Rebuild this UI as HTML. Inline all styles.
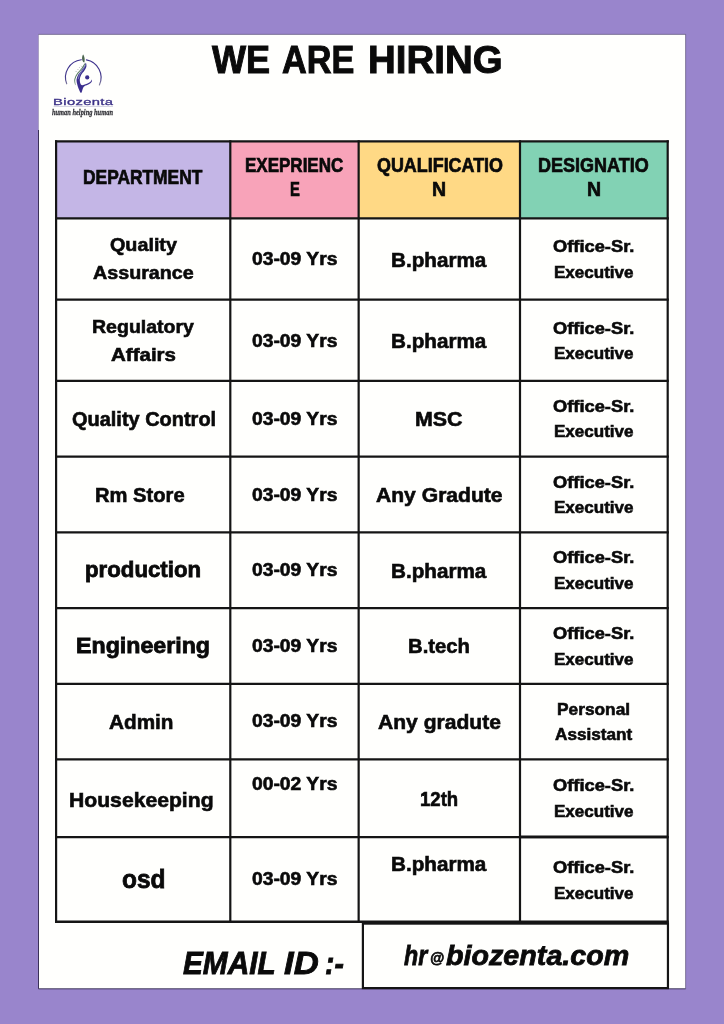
<!DOCTYPE html>
<html lang="en">
<head>
<meta charset="utf-8">
<title>We Are Hiring - Biozenta</title>
<style>
html,body{margin:0;padding:0}
body{width:724px;height:1024px;background:#9985cc;position:relative;overflow:hidden;font-family:"Liberation Sans",sans-serif;color:#0a0a0a}
.t{position:absolute;white-space:nowrap;line-height:1;font-weight:bold;transform-origin:0 0;margin:0;-webkit-text-stroke:0.45px #0a0a0a}
.i{font-style:italic}
.g{margin:0;padding:0;font-size:0;line-height:0}
.f{position:absolute}
</style>
</head>
<body>
<svg class="f" style="left:0;top:0" width="724" height="1024" viewBox="0 0 724 1024">
<rect x="38.5" y="34.4" width="647.1" height="954.5" fill="#fffffd"/>
<path d="M38.5 130V988.8H685.6" fill="none" stroke="#2a2048" stroke-width="0.9"/>
<path d="M38.5 130V34.4" fill="none" stroke="#2a2048" stroke-opacity="0.25" stroke-width="0.8"/>
<path d="M38.5 34.4H685.6V988.8" fill="none" stroke="#2a2048" stroke-opacity="0.6" stroke-width="0.8"/>
<rect x="56.1" y="141.3" width="174.2" height="77.1" fill="#c4b6e6"/>
<rect x="230.3" y="141.3" width="128.3" height="77.1" fill="#f8a3b9"/>
<rect x="358.65" y="141.3" width="161.4" height="77.1" fill="#ffd985"/>
<rect x="520.0" y="141.3" width="147.7" height="77.1" fill="#82d2b4"/>
<g stroke="#151515" stroke-width="2.2" fill="none" stroke-linecap="square">
<path d="M56.1 141.3V921.75"/>
<path d="M230.3 141.3V921.75"/>
<path d="M358.65 141.3V921.75"/>
<path d="M520.0 141.3V921.75"/>
<path d="M667.7 141.3V921.75"/>
<path d="M56.1 141.3H667.7"/>
<path d="M56.1 218.4H667.7"/>
<path d="M56.1 299.7H667.7"/>
<path d="M56.1 380.9H667.7"/>
<path d="M56.1 456.7H667.7"/>
<path d="M56.1 532.3H667.7"/>
<path d="M56.1 608.1H667.7"/>
<path d="M56.1 683.9H667.7"/>
<path d="M56.1 759.45H667.7"/>
<path d="M56.1 837.1H667.7"/>
</g>
<path d="M520.0 836.9H667.7" stroke="#151515" stroke-width="2.9"/>
<path d="M55.0 921.75H668.8" stroke="#151515" stroke-width="2.4"/>
<rect x="362.9" y="923.6" width="305.05" height="64.5" fill="#fffffd" stroke="#151515" stroke-width="2.2"/>
</svg>
<h1 class="g"><span class="t" style="left:211.66px;top:40.00px;font-size:39.2px;-webkit-text-stroke-width:1.0px;transform:scaleX(0.9208)">WE</span> <span class="t" style="left:282.44px;top:40.00px;font-size:39.2px;-webkit-text-stroke-width:1.0px;transform:scaleX(0.8741)">ARE</span> <span class="t" style="left:367.83px;top:40.00px;font-size:39.2px;-webkit-text-stroke-width:1.0px;transform:scaleX(0.9809)">HIRING</span></h1>
<div class="g">
<span class="t" style="left:83.13px;top:168.00px;font-size:19.8px;-webkit-text-stroke-width:0.7px;transform:scaleX(0.8781)">DEPARTMENT</span>
<span class="t" style="left:244.94px;top:156.00px;font-size:19.8px;-webkit-text-stroke-width:0.7px;transform:scaleX(0.8594)">EXEPRIENC</span>
<span class="t" style="left:289.51px;top:180.00px;font-size:19.8px;-webkit-text-stroke-width:0.7px;transform:scaleX(0.7480)">E</span>
<span class="t" style="left:376.57px;top:156.00px;font-size:19.8px;-webkit-text-stroke-width:0.7px;transform:scaleX(0.9050)">QUALIFICATIO</span>
<span class="t" style="left:432.36px;top:180.00px;font-size:19.8px;-webkit-text-stroke-width:0.7px;transform:scaleX(0.9843)">N</span>
<span class="t" style="left:538.16px;top:156.00px;font-size:19.8px;-webkit-text-stroke-width:0.7px;transform:scaleX(0.9096)">DESIGNATIO</span>
<span class="t" style="left:586.86px;top:180.00px;font-size:19.8px;-webkit-text-stroke-width:0.7px;transform:scaleX(0.9843)">N</span>
<span class="t" style="left:109.81px;top:235.00px;font-size:19px;-webkit-text-stroke-width:0.6px;transform:scaleX(1.0392)">Quality</span>
<span class="t" style="left:93.31px;top:263.00px;font-size:19px;-webkit-text-stroke-width:0.6px;transform:scaleX(1.0366)">Assurance</span>
<span class="t" style="left:91.78px;top:317.00px;font-size:19px;-webkit-text-stroke-width:0.6px;transform:scaleX(1.0275)">Regulatory</span>
<span class="t" style="left:111.07px;top:345.00px;font-size:19px;-webkit-text-stroke-width:0.6px;transform:scaleX(1.0795)">Affairs</span>
<span class="t" style="left:71.55px;top:410.00px;font-size:19.7px;-webkit-text-stroke-width:0.6px;transform:scaleX(1.0136)">Quality Control</span>
<span class="t" style="left:95.03px;top:486.00px;font-size:19.7px;-webkit-text-stroke-width:0.6px;transform:scaleX(1.0239)">Rm Store</span>
<span class="t" style="left:85.16px;top:558.00px;font-size:22.7px;-webkit-text-stroke-width:0.8px;transform:scaleX(0.9796)">production</span>
<span class="t" style="left:76.37px;top:635.00px;font-size:22px;-webkit-text-stroke-width:0.8px;transform:scaleX(1.0539)">Engineering</span>
<span class="t" style="left:108.56px;top:712.00px;font-size:20.2px;-webkit-text-stroke-width:0.6px;transform:scaleX(1.0267)">Admin</span>
<span class="t" style="left:68.52px;top:790.00px;font-size:20.2px;-webkit-text-stroke-width:0.6px;transform:scaleX(1.0477)">Housekeeping</span>
<span class="t" style="left:121.92px;top:867.00px;font-size:25.5px;-webkit-text-stroke-width:0.8px;transform:scaleX(0.9585)">osd</span>
<span class="t" style="left:390.53px;top:250.00px;font-size:20.2px;-webkit-text-stroke-width:0.6px;transform:scaleX(1.0242)">B.pharma</span>
<span class="t" style="left:390.53px;top:331.00px;font-size:20.2px;-webkit-text-stroke-width:0.6px;transform:scaleX(1.0242)">B.pharma</span>
<span class="t" style="left:415.00px;top:410.00px;font-size:19.9px;-webkit-text-stroke-width:0.6px;transform:scaleX(1.0763)">MSC</span>
<span class="t" style="left:375.81px;top:485.00px;font-size:20.2px;-webkit-text-stroke-width:0.6px;transform:scaleX(1.0451)">Any Gradute</span>
<span class="t" style="left:390.53px;top:561.00px;font-size:20.2px;-webkit-text-stroke-width:0.6px;transform:scaleX(1.0242)">B.pharma</span>
<span class="t" style="left:408.05px;top:636.00px;font-size:20.2px;-webkit-text-stroke-width:0.6px;transform:scaleX(1.0047)">B.tech</span>
<span class="t" style="left:377.81px;top:712.00px;font-size:20.2px;-webkit-text-stroke-width:0.6px;transform:scaleX(1.0432)">Any gradute</span>
<span class="t" style="left:420.10px;top:790.00px;font-size:19.9px;-webkit-text-stroke-width:0.6px;transform:scaleX(0.9340)">12th</span>
<span class="t" style="left:390.53px;top:854.00px;font-size:20.2px;-webkit-text-stroke-width:0.6px;transform:scaleX(1.0242)">B.pharma</span>
<span class="t" style="left:251.57px;top:250.00px;font-size:18.2px;-webkit-text-stroke-width:0.6px;transform:scaleX(1.0599)">03-09 Yrs</span>
<span class="t" style="left:251.57px;top:332.00px;font-size:18.2px;-webkit-text-stroke-width:0.6px;transform:scaleX(1.0599)">03-09 Yrs</span>
<span class="t" style="left:251.57px;top:410.00px;font-size:18.2px;-webkit-text-stroke-width:0.6px;transform:scaleX(1.0599)">03-09 Yrs</span>
<span class="t" style="left:251.57px;top:486.00px;font-size:18.2px;-webkit-text-stroke-width:0.6px;transform:scaleX(1.0599)">03-09 Yrs</span>
<span class="t" style="left:251.57px;top:561.00px;font-size:18.2px;-webkit-text-stroke-width:0.6px;transform:scaleX(1.0599)">03-09 Yrs</span>
<span class="t" style="left:251.57px;top:637.00px;font-size:18.2px;-webkit-text-stroke-width:0.6px;transform:scaleX(1.0599)">03-09 Yrs</span>
<span class="t" style="left:251.57px;top:712.00px;font-size:18.2px;-webkit-text-stroke-width:0.6px;transform:scaleX(1.0599)">03-09 Yrs</span>
<span class="t" style="left:251.57px;top:775.00px;font-size:18.2px;-webkit-text-stroke-width:0.6px;transform:scaleX(1.0599)">00-02 Yrs</span>
<span class="t" style="left:251.57px;top:870.00px;font-size:18.2px;-webkit-text-stroke-width:0.6px;transform:scaleX(1.0599)">03-09 Yrs</span>
<span class="t" style="left:553.33px;top:239.00px;font-size:16.9px;-webkit-text-stroke-width:0.6px;transform:scaleX(1.0833)">Office-Sr.</span>
<span class="t" style="left:553.79px;top:265.00px;font-size:16.9px;-webkit-text-stroke-width:0.6px;transform:scaleX(1.0086)">Executive</span>
<span class="t" style="left:553.33px;top:321.00px;font-size:16.9px;-webkit-text-stroke-width:0.6px;transform:scaleX(1.0833)">Office-Sr.</span>
<span class="t" style="left:553.79px;top:346.00px;font-size:16.9px;-webkit-text-stroke-width:0.6px;transform:scaleX(1.0086)">Executive</span>
<span class="t" style="left:553.33px;top:399.00px;font-size:16.9px;-webkit-text-stroke-width:0.6px;transform:scaleX(1.0833)">Office-Sr.</span>
<span class="t" style="left:553.79px;top:424.00px;font-size:16.9px;-webkit-text-stroke-width:0.6px;transform:scaleX(1.0086)">Executive</span>
<span class="t" style="left:553.33px;top:475.00px;font-size:16.9px;-webkit-text-stroke-width:0.6px;transform:scaleX(1.0833)">Office-Sr.</span>
<span class="t" style="left:553.79px;top:500.00px;font-size:16.9px;-webkit-text-stroke-width:0.6px;transform:scaleX(1.0086)">Executive</span>
<span class="t" style="left:553.33px;top:550.00px;font-size:16.9px;-webkit-text-stroke-width:0.6px;transform:scaleX(1.0833)">Office-Sr.</span>
<span class="t" style="left:553.79px;top:576.00px;font-size:16.9px;-webkit-text-stroke-width:0.6px;transform:scaleX(1.0086)">Executive</span>
<span class="t" style="left:553.33px;top:626.00px;font-size:16.9px;-webkit-text-stroke-width:0.6px;transform:scaleX(1.0833)">Office-Sr.</span>
<span class="t" style="left:553.79px;top:652.00px;font-size:16.9px;-webkit-text-stroke-width:0.6px;transform:scaleX(1.0086)">Executive</span>
<span class="t" style="left:553.33px;top:778.00px;font-size:16.9px;-webkit-text-stroke-width:0.6px;transform:scaleX(1.0833)">Office-Sr.</span>
<span class="t" style="left:553.79px;top:804.00px;font-size:16.9px;-webkit-text-stroke-width:0.6px;transform:scaleX(1.0086)">Executive</span>
<span class="t" style="left:553.33px;top:860.00px;font-size:16.9px;-webkit-text-stroke-width:0.6px;transform:scaleX(1.0833)">Office-Sr.</span>
<span class="t" style="left:553.79px;top:886.00px;font-size:16.9px;-webkit-text-stroke-width:0.6px;transform:scaleX(1.0086)">Executive</span>
<span class="t" style="left:556.78px;top:702.00px;font-size:16.9px;-webkit-text-stroke-width:0.6px;transform:scaleX(1.0248)">Personal</span>
<span class="t" style="left:555.30px;top:727.00px;font-size:16.9px;-webkit-text-stroke-width:0.6px;transform:scaleX(1.0161)">Assistant</span>
</div>
<div class="g"><span class="t i" style="left:182.99px;top:948.00px;font-size:30.55px;-webkit-text-stroke-width:0.8px;transform:scaleX(0.9749)">EMAIL</span> <span class="t i" style="left:284.25px;top:948.00px;font-size:30.55px;-webkit-text-stroke-width:0.8px;transform:scaleX(1.1347)">ID</span> <span class="t i" style="left:325.44px;top:948.00px;font-size:30.55px;-webkit-text-stroke-width:0.8px;transform:scaleX(0.9263)">:-</span></div>
<div class="g"><span class="t i" style="left:404.43px;top:942.00px;font-size:28px;-webkit-text-stroke-width:0.8px;transform:scaleX(0.8284)">hr</span><span class="t i" style="left:430.06px;top:951.00px;font-size:14.6px;-webkit-text-stroke-width:0.7px;transform:scaleX(0.9854)">@</span><span class="t i" style="left:446.01px;top:942.00px;font-size:28px;-webkit-text-stroke-width:0.8px;transform:scaleX(1.0245)">biozenta.com</span></div>
<svg class="f" style="left:45px;top:45px" width="80" height="80" viewBox="45 45 80 80">
<defs><linearGradient id="ag" x1="0" y1="59" x2="0" y2="86" gradientUnits="userSpaceOnUse"><stop offset="0" stop-color="#3b2f8e"/><stop offset="0.7" stop-color="#463c8c"/><stop offset="1" stop-color="#8c8aa0"/></linearGradient></defs>
<g fill="none" stroke="url(#ag)" stroke-linecap="round" stroke-width="1.15">
<path d="M66.7 83.8A17.8 17.8 0 0 1 81.2 59.7"/>
<path d="M86.4 59.9A17.8 17.8 0 0 1 99.4 84.9"/>
</g>
<path d="M83.16 54.55C83.58 54.60 84.43 57.07 84.61 58.38C84.80 59.70 84.57 62.00 84.25 62.46C83.93 62.91 83.03 61.85 82.67 61.12C82.30 60.39 81.98 59.17 82.06 58.08C82.14 56.98 82.73 54.50 83.16 54.55Z" fill="#4c6650"/>
<path d="M85.83 62.82C86.11 62.95 86.64 65.05 86.44 66.29C86.24 67.52 85.50 68.79 84.61 70.24C83.73 71.69 81.95 73.46 81.15 74.98C80.35 76.50 79.93 77.92 79.81 79.36C79.69 80.79 80.02 82.65 80.42 83.61C80.81 84.57 81.00 85.15 82.18 85.13C83.37 85.11 86.11 84.11 87.53 83.49C88.95 82.87 89.96 82.09 90.69 81.42C91.42 80.75 91.76 79.40 91.91 79.48C92.06 79.56 92.13 81.11 91.60 81.91C91.08 82.71 89.89 83.59 88.75 84.28C87.60 84.97 85.68 85.42 84.74 86.04C83.79 86.66 83.71 86.82 83.09 87.99C82.48 89.15 81.79 92.95 81.03 93.03C80.27 93.11 79.20 90.04 78.53 88.47C77.87 86.90 77.34 85.13 77.02 83.61C76.69 82.09 76.38 80.86 76.59 79.36C76.80 77.86 77.40 76.21 78.29 74.61C79.18 73.01 80.87 71.27 81.94 69.75C83.01 68.23 84.09 66.65 84.74 65.50C85.38 64.34 85.55 62.69 85.83 62.82Z" fill="#3b2f8e"/>
<path d="M84.61 63.55C83.99 64.28 82.65 66.81 81.33 68.53C80.01 70.26 77.88 72.08 76.71 73.88C75.55 75.69 74.62 77.58 74.34 79.36C74.06 81.13 74.82 83.66 75.01 84.52C75.20 85.38 75.45 85.36 75.50 84.52C75.54 83.68 74.89 81.19 75.25 79.48C75.62 77.76 76.53 75.99 77.68 74.25C78.84 72.51 80.95 70.70 82.18 69.02C83.42 67.34 84.70 65.07 85.10 64.16C85.51 63.25 85.24 62.82 84.61 63.55Z" fill="#557a63"/>
<path d="M85.34 65.07C84.95 65.83 83.90 68.11 82.97 69.63C82.04 71.15 80.53 72.67 79.75 74.19C78.97 75.71 78.53 77.99 78.29 78.75" fill="none" stroke="#b9c4ea" stroke-width="0.55" stroke-linecap="round"/>
<circle cx="87.23" cy="77.41" r="2.1" fill="#3b2f8e"/>
<path d="M76.47 71.94L75.86 71.21M78.17 69.75L77.56 69.02M79.99 68.17L79.39 67.44M81.82 66.59L81.21 65.86" stroke="#5a6274" stroke-width="0.6" fill="none"/>
<path d="M53.6 106.4H113" stroke="#b4b2cc" stroke-width="0.6"/>
<text x="0" y="0" transform="translate(53.1 104.7) scale(1.57 1)" font-family="'Liberation Sans',sans-serif" font-weight="normal" font-size="9.4" fill="#3b3187" stroke="#3b3187" stroke-width="0.3" textLength="38.1" lengthAdjust="spacing">Biozenta</text>
<text x="0" y="0" transform="translate(51.9 115.1) scale(0.78 1)" font-family="'Liberation Serif',serif" font-weight="bold" font-style="italic" font-size="8.6" fill="#333338" stroke="#333338" stroke-width="0.25" textLength="78.3" lengthAdjust="spacingAndGlyphs">human helping human</text>
</svg>
</body>
</html>
